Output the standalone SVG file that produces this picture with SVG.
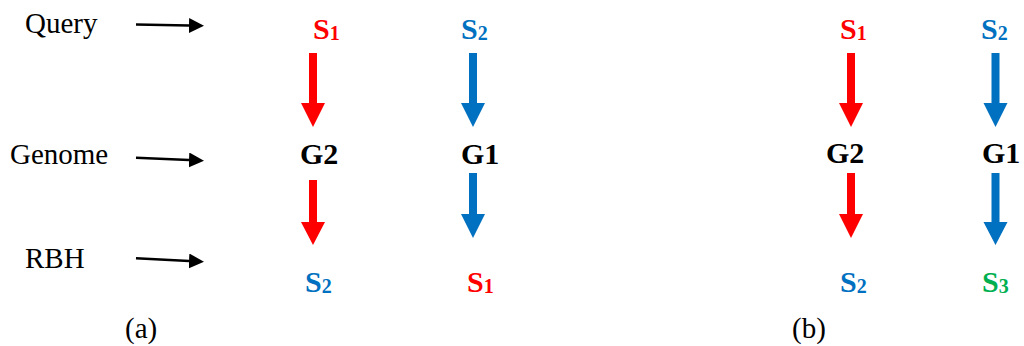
<svg xmlns="http://www.w3.org/2000/svg" width="1024" height="346" viewBox="0 0 1024 346">
  <style>
    text { font-family: 'Liberation Serif', 'Times New Roman', serif; }
    .label { font-size: 29px; fill: #000; }
    .seq { font-size: 30px; font-weight: bold; }
    .sub { font-size: 20px; }
    .gen { font-size: 30px; font-weight: bold; fill: #000; }
    .red { fill: #FF0000; }
    .blue { fill: #0070C0; }
    .green { fill: #00B050; }
    .pointer { stroke: #000; stroke-width: 2.5; fill: none; }
  </style>
  <defs>
    <marker id="head" viewBox="0 0 15 15" refX="0" refY="7.5" markerWidth="15" markerHeight="15" markerUnits="userSpaceOnUse" orient="auto">
      <path d="M0,0 L15,7.5 L0,15 Z" fill="#000"/>
    </marker>
  </defs>
  <rect width="1024" height="346" fill="#fff"/>

  <!-- row labels -->
  <g id="label-query"><text class="label" x="25" y="33">Query</text></g>
  <g id="label-genome"><text class="label" x="10" y="164">Genome</text></g>
  <g id="label-rbh"><text class="label" x="25" y="268">RBH</text></g>

  <!-- panel (a) -->
  <g id="a-query-s1"><text class="seq red" x="313" y="39">S<tspan class="sub" dy="1">1</tspan></text></g>
  <g id="a-query-s2"><text class="seq blue" x="461" y="39">S<tspan class="sub" dy="1">2</tspan></text></g>
  <g id="a-genome-g2"><text class="gen" x="300" y="164">G2</text></g>
  <g id="a-genome-g1"><text class="gen" x="461" y="164">G1</text></g>
  <g id="a-rbh-s2"><text class="seq blue" x="305" y="292">S<tspan class="sub" dy="1">2</tspan></text></g>
  <g id="a-rbh-s1"><text class="seq red" x="467" y="292">S<tspan class="sub" dy="1">1</tspan></text></g>
  <g id="caption-a"><text class="label" x="125" y="338">(a)</text></g>

  <!-- panel (b) -->
  <g id="b-query-s1"><text class="seq red" x="840" y="39">S<tspan class="sub" dy="1">1</tspan></text></g>
  <g id="b-query-s2"><text class="seq blue" x="981" y="39">S<tspan class="sub" dy="1">2</tspan></text></g>
  <g id="b-genome-g2"><text class="gen" x="826" y="163">G2</text></g>
  <g id="b-genome-g1"><text class="gen" x="982" y="163">G1</text></g>
  <g id="b-rbh-s2"><text class="seq blue" x="840" y="292">S<tspan class="sub" dy="1">2</tspan></text></g>
  <g id="b-rbh-s3"><text class="seq green" x="982" y="292">S<tspan class="sub" dy="1">3</tspan></text></g>
  <g id="caption-b"><text class="label" x="792" y="338">(b)</text></g>

  <!-- connectors -->
  <g id="connectors">
    <!-- row pointers -->
    <line class="pointer" x1="136" y1="24.5" x2="189" y2="25.5" marker-end="url(#head)"/>
    <line class="pointer" x1="136" y1="157.7" x2="189" y2="160" marker-end="url(#head)"/>
    <line class="pointer" x1="136" y1="258.3" x2="189" y2="261" marker-end="url(#head)"/>

    <!-- panel (a) block arrows -->
    <path class="red" d="M309,53 H317 V103 H325 L313,127 L301,103 H309 Z"/>
    <path class="red" d="M309,180 H317 V222 H325 L313,245 L301,222 H309 Z"/>
    <path class="blue" d="M469,53 H477 V103 H485 L473,127 L461,103 H469 Z"/>
    <path class="blue" d="M469,173 H477 V214 H485 L473,238 L461,214 H469 Z"/>

    <!-- panel (b) block arrows -->
    <path class="red" d="M847,53 H855 V103 H863 L851,127 L839,103 H847 Z"/>
    <path class="red" d="M847,173 H855 V214 H863 L851,238 L839,214 H847 Z"/>
    <path class="blue" d="M991.5,53 H999.5 V103 H1007.5 L995.5,127 L983.5,103 H991.5 Z"/>
    <path class="blue" d="M991.5,173 H999.5 V222 H1007.5 L995.5,245 L983.5,222 H991.5 Z"/>
  </g>
</svg>
